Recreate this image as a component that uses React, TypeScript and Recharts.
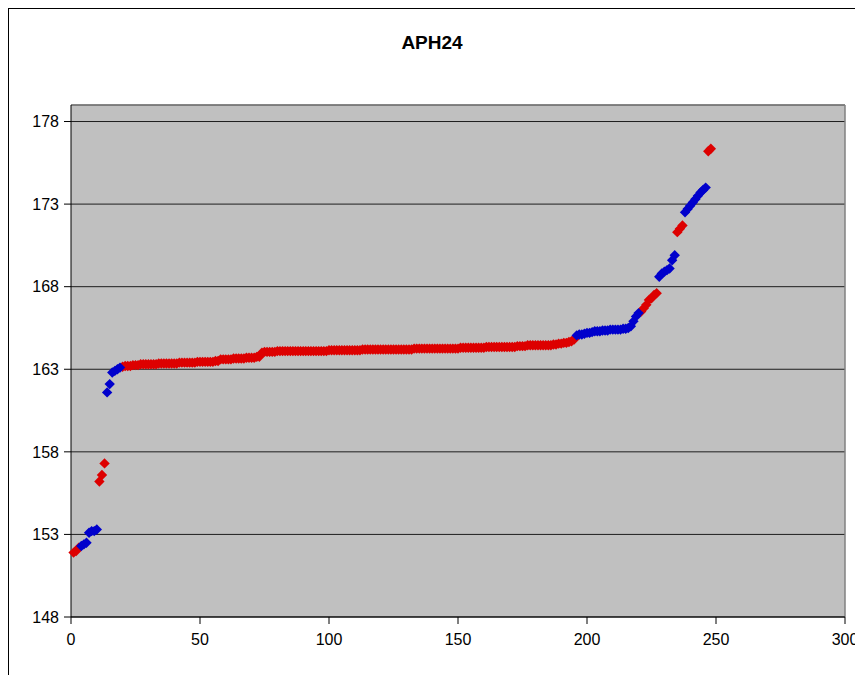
import { ScatterChart, Scatter, XAxis, YAxis, CartesianGrid, ReferenceLine } from 'recharts'

// x positions are ranks, each run starts at the given index
const redRun1 = [151.9, 152.0, 152.2]
const blueRun1 = [152.3, 152.4, 152.5, 153.1, 153.2, 153.2, 153.3]
const redRun2 = [156.2, 156.6, 157.3]
const blueRun2 = [161.6, 162.1, 162.8, 162.9, 163.0, 163.1]
const redRun3 = [
  163.15, 163.2, 163.2, 163.2, 163.25, 163.25, 163.25, 163.3, 163.3, 163.3, 163.3,
  163.3, 163.3, 163.3, 163.35, 163.35, 163.35, 163.35, 163.35, 163.35, 163.35, 163.35,
  163.4, 163.4, 163.4, 163.4, 163.4, 163.4, 163.4, 163.45, 163.45, 163.45, 163.45,
  163.45, 163.45, 163.45, 163.5, 163.5,
  163.6, 163.6, 163.6, 163.6, 163.6, 163.65, 163.65, 163.65, 163.65, 163.65,
  163.7, 163.7, 163.7, 163.7, 163.75, 163.75,
  164.0, 164.05, 164.05, 164.05, 164.05, 164.05,
  164.1, 164.1, 164.1, 164.1, 164.1, 164.1, 164.1, 164.1, 164.1, 164.1,
  164.1, 164.1, 164.1, 164.1, 164.1, 164.1, 164.1, 164.1, 164.1, 164.1,
  164.15, 164.15, 164.15, 164.15, 164.15, 164.15, 164.15, 164.15, 164.15, 164.15,
  164.15, 164.15, 164.15,
  164.2, 164.2, 164.2, 164.2, 164.2, 164.2, 164.2, 164.2, 164.2, 164.2,
  164.2, 164.2, 164.2, 164.2, 164.2, 164.2, 164.2, 164.2, 164.2, 164.2,
  164.25, 164.25, 164.25, 164.25, 164.25, 164.25, 164.25, 164.25, 164.25,
  164.25, 164.25, 164.25, 164.25, 164.25, 164.25, 164.25, 164.25, 164.25,
  164.3, 164.3, 164.3, 164.3, 164.3, 164.3, 164.3, 164.3, 164.3, 164.3,
  164.35, 164.35, 164.35, 164.35, 164.35, 164.35, 164.35, 164.35, 164.35, 164.35,
  164.35, 164.35,
  164.4, 164.4, 164.4, 164.4, 164.45, 164.45, 164.45, 164.45, 164.45, 164.45,
  164.45, 164.45, 164.45, 164.45,
  164.5, 164.5, 164.55, 164.55, 164.6, 164.6, 164.65, 164.7, 164.8,
]
const blueRun3 = [
  165.05, 165.1, 165.1, 165.15, 165.2, 165.2, 165.25, 165.3, 165.3, 165.3,
  165.35, 165.35, 165.35, 165.4, 165.4, 165.4, 165.4, 165.4, 165.45, 165.45,
  165.5, 165.6, 165.9, 166.2, 166.4,
]
const redRun4 = [166.5, 166.7, 166.9, 167.2, 167.3, 167.5, 167.6]
const blueRun4 = [168.6, 168.8, 168.9, 169.0, 169.1, 169.6, 169.9]
const redRun5 = [171.3, 171.5, 171.7]
const blueRun5 = [172.5, 172.7, 172.9, 173.1, 173.3, 173.5, 173.7, 173.85, 174.0]
const redRun6 = [176.2, 176.35]

const redRuns: [number, number[]][] = [[1, redRun1], [11, redRun2], [20, redRun3], [221, redRun4], [235, redRun5], [247, redRun6]]
const blueRuns: [number, number[]][] = [[4, blueRun1], [14, blueRun2], [196, blueRun3], [228, blueRun4], [238, blueRun5]]

const xTicks = [0, 50, 100, 150, 200, 250, 300]
const yTicks = [148, 153, 158, 163, 168, 173, 178]

const toPoints = (runs: [number, number[]][]) =>
  runs.flatMap(([start, vals]) => vals.map((y, i) => ({ x: start + i, y })))

const redData = toPoints(redRuns)
const blueData = toPoints(blueRuns)

const Diamond = (props: any) => {
  const { cx, cy, fill } = props
  const r = 5.2
  return <polygon points={`${cx},${cy - r} ${cx + r},${cy} ${cx},${cy + r} ${cx - r},${cy}`} fill={fill} />
}

const tickStyle = { fontSize: 16, fill: '#000', fontFamily: 'Liberation Sans, Arial, sans-serif' }

export default function App() {
  return (
    <div
      style={{
        position: 'relative',
        width: 854,
        height: 666,
        borderTop: '1px solid #000',
        borderLeft: '1px solid #000',
        background: '#fff',
        fontFamily: 'Liberation Sans, Arial, sans-serif',
      }}
    >
      <div
        style={{
          position: 'absolute',
          top: 23,
          left: 0,
          width: 846,
          textAlign: 'center',
          fontSize: 19,
          fontWeight: 'bold',
          lineHeight: '22px',
        }}
      >
        APH24
      </div>
      <ScatterChart width={854} height={666} margin={{ top: 96, right: 18, bottom: 18, left: 0 }} style={{ overflow: 'visible' }}>
        <CartesianGrid vertical={false} fill="#c0c0c0" stroke="#000" strokeOpacity={0.85} />
        <XAxis
          type="number"
          dataKey="x"
          domain={[0, 300]}
          ticks={xTicks}
          interval={0}
          height={40}
          fontSize={16}
          tick={tickStyle}
          tickSize={7}
          tickMargin={10}
          axisLine={{ stroke: '#000' }}
          tickLine={{ stroke: '#000' }}
        />
        <YAxis
          type="number"
          dataKey="y"
          domain={[148, 179]}
          ticks={yTicks}
          interval={0}
          width={62}
          fontSize={16}
          tick={tickStyle}
          tickSize={7}
          tickMargin={5}
          axisLine={{ stroke: '#000' }}
          tickLine={{ stroke: '#000' }}
        />
        <ReferenceLine y={179} stroke="#808080" strokeWidth={1.5} />
        <ReferenceLine x={300} stroke="#808080" strokeWidth={1.5} />
        <Scatter data={redData} fill="#dd0000" shape={Diamond} isAnimationActive={false} />
        <Scatter data={blueData} fill="#0000cc" shape={Diamond} isAnimationActive={false} />
      </ScatterChart>
    </div>
  )
}
